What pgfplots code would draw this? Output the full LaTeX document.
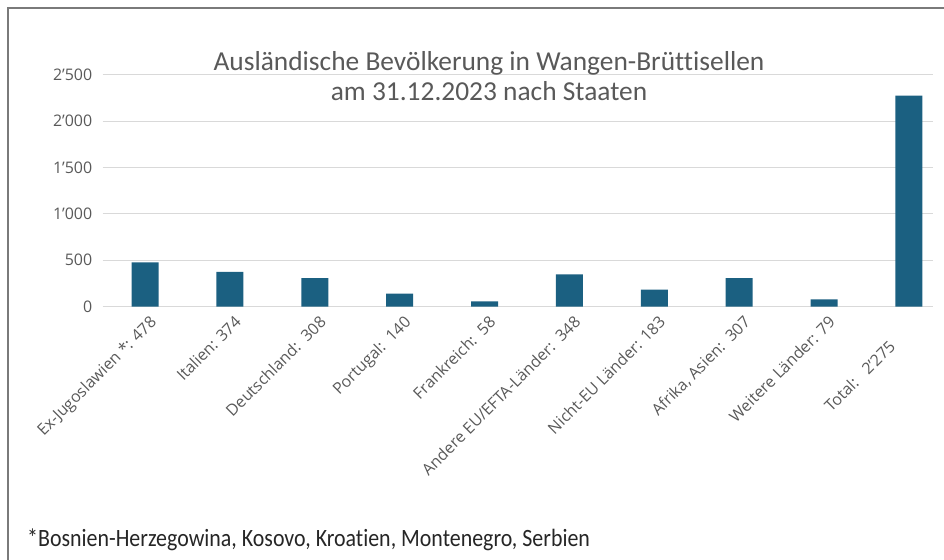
\documentclass[border=0pt]{standalone}
\usepackage{pgfplots}
\pgfplotsset{compat=1.18}
\usepackage{fontspec}
\setmainfont{Open Sans}
\newfontfamily\titlefont[Ligatures=NoCommon]{Carlito}
\definecolor{barc}{HTML}{1B6081}
\definecolor{txt}{HTML}{595959}
\definecolor{gridc}{HTML}{D9D9D9}
\definecolor{framec}{HTML}{7A7A7A}
\begin{document}
\begin{tikzpicture}[x=1bp,y=1bp]
\useasboundingbox (0,0) rectangle (944,560);
\draw[color=framec, line width=2bp] (8,0) -- (8,552) -- (944,552);
\begin{axis}[
  at={(121,273)}, anchor=south west,
  scale only axis, width=830bp, height=232bp,
  ymin=0, ymax=2500, xmin=-0.5, xmax=9.28,
  ybar, bar width=27bp,
  axis line style={draw=none},
  tick style={draw=none},
  ymajorgrids, major grid style={gridc, line width=1bp},
  ytick={0,500,1000,1500,2000,2500},
  yticklabels={0,500,1’000,1’500,2’000,2’500},
  xtick={0,...,9},
  xticklabels={Ex-Jugoslawien *: 478, Italien: 374, Deutschland:\ \ 308, Portugal:\ \ 140, Frankreich:\ \ 58, Andere EU/EFTA-Länder:\ \ 348, Nicht-EU Länder: 183, Afrika{,} Asien:\ \ 307, Weitere Länder: 79, {Total:\ \ \ 2’275\kern35bp}},
  y tick label style={font=\fontsize{16}{16}\selectfont, color=txt, xshift=-7bp},
  x tick label style={rotate=45, anchor=north east, font=\fontsize{16}{16}\selectfont, color=txt, inner sep=2bp, xshift=2bp, yshift=-3bp},
]
\addplot[fill=barc, draw=none] coordinates {(0,478) (1,374) (2,308) (3,140) (4,58) (5,348) (6,183) (7,307) (8,79) (9,2275)};
\end{axis}
\node[anchor=base, inner sep=0, font=\titlefont\fontsize{27.5}{27.5}\selectfont, color=txt] at (489,489) {Ausländische Bevölkerung in Wangen-Brüttisellen};
\node[anchor=base, inner sep=0, font=\titlefont\fontsize{27.5}{27.5}\selectfont, color=txt] at (489,459) {am 31.12.2023 nach Staaten};
\node[anchor=base west, inner sep=0, font=\titlefont\fontsize{25}{25}\selectfont, color=black!85] at (27,13) {\scalebox{0.88}[1]{*Bosnien-Herzegowina, Kosovo, Kroatien, Montenegro, Serbien}};
\end{tikzpicture}
\end{document}
